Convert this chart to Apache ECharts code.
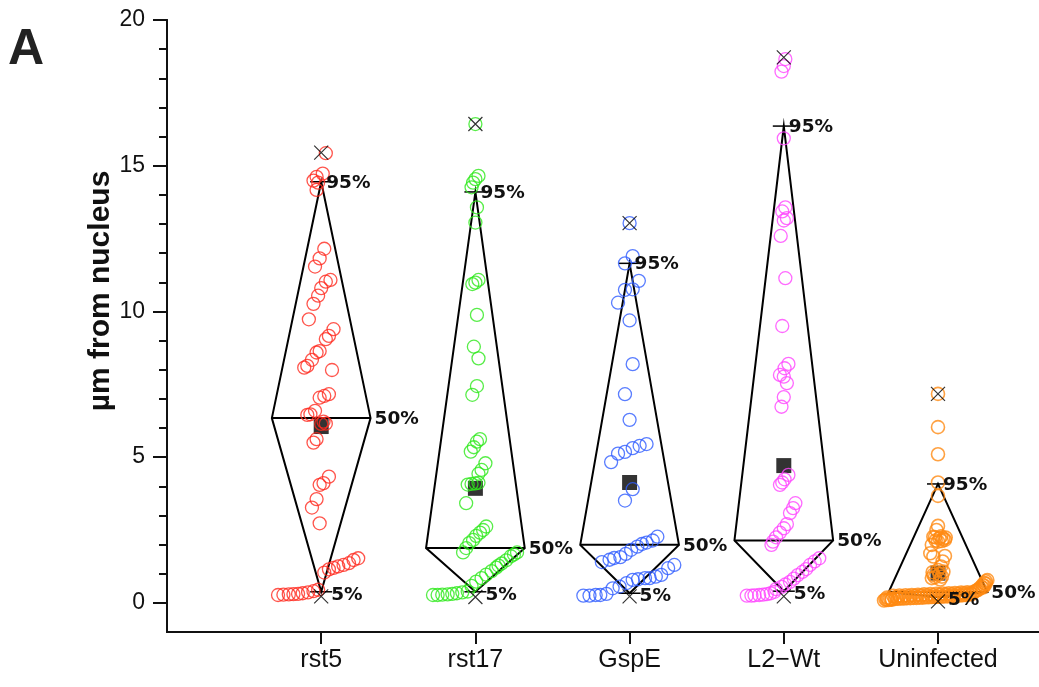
<!DOCTYPE html>
<html><head><meta charset="utf-8">
<script src="https://cdn.jsdelivr.net/npm/echarts@6/dist/echarts.min.js"></script>
<style>html,body{margin:0;padding:0;background:#fff}#c{width:1039px;height:687px}</style>
</head><body><div id="c"></div>
<script>
// ---- data ----
const categories = ['rst5', 'rst17', 'GspE', 'L2\u2212Wt', 'Uninfected'];
const yTickValues = [0, 5, 10, 15, 20];
const yMinorTickValues = [1,2,3,4,6,7,8,9,11,12,13,14,16,17,18,19];
const pct95 = [14.45, 14.1, 11.65, 16.36, 4.08];
const pct50 = [6.34, 1.88, 1.99, 2.14, 0.37];
const pct5  = [0.38, 0.38, 0.33, 0.40, 0.20];
const maxVals = [15.45, 16.43, 13.03, 18.72, 7.17];
const minVals = [0.22, 0.20, 0.22, 0.22, 0.05];
const means = [6.05, 3.93, 4.13, 4.71, 1.02];

// points: [offset from category centre (category units), value]
const rst5Pts = [
 [0.03,15.43],[-0.05,14.49],[-0.03,14.62],[0.01,14.73],[-0.02,14.42],[-0.03,14.17],
 [0.02,12.15],[-0.01,11.82],[-0.04,11.54],[0.06,11.08],[0.03,11.02],[0.0,10.80],[-0.02,10.54],
 [-0.05,10.26],[-0.08,9.73],[0.08,9.39],[0.05,9.16],[0.03,9.05],[-0.01,8.64],[-0.03,8.59],
 [-0.06,8.34],[-0.09,8.13],[-0.11,8.07],[0.07,7.99],[0.05,7.16],[0.02,7.10],[-0.01,7.04],
 [-0.04,6.59],[-0.07,6.47],[-0.09,6.45],[0.015,6.22],[0.03,6.15],[0.0,6.14],[-0.03,5.62],
 [-0.05,5.50],[0.05,4.33],[0.015,4.11],[-0.01,4.05],[-0.03,3.56],[-0.06,3.27],[-0.01,2.73],
 [0.24,1.53],[0.21,1.47],[0.18,1.36],[0.145,1.30],[0.11,1.25],[0.08,1.20],[0.05,1.15],[0.02,1.04],
 [-0.28,0.27],[-0.245,0.28],[-0.21,0.29],[-0.18,0.30],[-0.15,0.31],[-0.12,0.33],[-0.085,0.36],[-0.05,0.40],[-0.02,0.45]
];
const rst17Pts = [
 [0.0,16.43],[0.02,14.65],[0.0,14.54],[-0.015,14.42],[-0.025,14.26],[0.01,13.57],[0.0,13.05],
 [0.02,11.08],[0.0,10.99],[-0.02,10.94],[0.01,9.88],[-0.01,8.79],[0.02,8.39],[0.01,7.44],[-0.02,7.14],
 [0.03,5.62],[0.01,5.53],[-0.01,5.34],[-0.03,5.19],[0.065,4.79],[0.04,4.56],[0.02,4.43],
 [-0.05,4.06],[-0.025,4.08],[0.0,4.10],[0.02,4.12],[-0.06,3.42],
 [0.07,2.62],[0.05,2.50],[0.03,2.41],[0.005,2.30],[-0.015,2.16],[-0.04,2.05],[-0.06,1.88],[-0.08,1.73],
 [0.27,1.73],[0.25,1.66],[0.23,1.60],[0.2,1.46],[0.17,1.35],[0.15,1.28],[0.135,1.21],[0.105,1.09],
 [0.07,0.97],[0.04,0.85],[0.005,0.73],[-0.025,0.58],
 [-0.275,0.27],[-0.245,0.27],[-0.215,0.28],[-0.18,0.29],[-0.15,0.31],[-0.12,0.33],[-0.085,0.36],[-0.05,0.39]
];
const gspePts = [
 [0.0,13.03],[0.02,11.90],[-0.03,11.65],[0.06,11.05],[0.02,10.76],[-0.03,10.74],[-0.075,10.30],
 [0.0,9.69],[0.02,8.19],[-0.03,7.16],[0.0,6.28],
 [-0.12,4.83],[-0.075,5.12],[-0.03,5.18],[0.02,5.31],[0.065,5.39],[0.11,5.45],
 [0.02,3.90],[-0.03,3.51],
 [0.18,2.27],[0.15,2.14],[0.11,2.07],[0.08,2.02],[0.05,1.93],[0.01,1.82],[-0.025,1.68],[-0.06,1.57],
 [-0.1,1.54],[-0.13,1.48],[-0.18,1.40],
 [0.29,1.30],[0.25,1.19],[0.205,0.96],[0.17,0.90],[0.13,0.85],[0.1,0.85],[0.055,0.81],[0.02,0.79],
 [-0.02,0.68],[-0.065,0.56],[-0.11,0.50],[-0.15,0.31],[-0.19,0.27],[-0.22,0.27],[-0.26,0.25],[-0.3,0.25]
];
const l2wtPts = [
 [0.01,18.66],[0.0,18.42],[-0.015,18.23],[0.0,15.94],
 [0.01,13.57],[-0.01,13.43],[0.02,13.20],[0.0,13.12],[-0.02,12.59],[0.01,11.14],[-0.01,9.50],
 [0.03,8.20],[0.005,8.05],[-0.025,7.82],[0.0,7.76],[0.02,7.54],[0.0,7.06],[-0.015,6.73],
 [0.03,4.39],[0.005,4.24],[-0.01,4.13],[-0.025,4.05],[0.075,3.42],[0.06,3.25],[0.04,3.08],
 [0.02,2.70],[0.0,2.56],[-0.025,2.41],[-0.05,2.25],[-0.07,2.10],[-0.08,1.99],
 [0.23,1.53],[0.2,1.42],[0.17,1.30],[0.145,1.16],[0.12,1.06],[0.09,0.95],[0.065,0.83],[0.04,0.72],
 [0.01,0.63],[-0.015,0.55],[-0.05,0.47],
 [-0.24,0.25],[-0.21,0.25],[-0.19,0.26],[-0.16,0.27],[-0.135,0.28],[-0.11,0.30],[-0.085,0.33],[-0.06,0.38]
];
const uninfPts = [
 [0.0,7.17],[0.0,6.03],[0.0,5.10],[0.0,4.13],[0.0,3.67],
 [0.0,2.64],[-0.01,2.50],[-0.03,2.27],[0.01,2.22],[0.045,2.16],[0.0,2.10],[-0.04,1.99],
 [-0.02,2.25],[0.02,2.28],[0.035,2.20],[-0.015,2.14],[0.025,2.12],[0.05,2.24],
 [-0.05,1.70],[-0.03,1.59],[0.045,1.61],[0.03,1.42],[0.02,1.25],[0.0,1.13],[-0.03,0.96],
 [-0.04,0.85],[0.025,0.90],[0.035,1.07],[0.01,0.98],[-0.02,0.88],[0.015,0.80],[-0.035,1.05],
 [-0.35,0.08],[-0.34,0.12],[-0.33,0.10],[-0.31,0.13],[-0.30,0.11],
 [-0.32,0.10],[-0.30,0.12],[-0.28,0.13],[-0.26,0.14],[-0.24,0.15],[-0.22,0.15],[-0.20,0.16],
 [-0.18,0.16],[-0.16,0.17],[-0.14,0.17],[-0.12,0.18],[-0.10,0.18],[-0.08,0.19],[-0.06,0.19],
 [-0.04,0.20],[-0.02,0.20],[0.0,0.21],[0.02,0.21],[0.04,0.22],[0.06,0.22],[0.08,0.23],[0.10,0.23],
 [0.12,0.24],[0.14,0.25],[0.16,0.26],[0.18,0.27],[0.20,0.28],[0.22,0.30],
 [-0.33,0.18],[-0.29,0.24],[-0.27,0.20],[-0.25,0.25],[-0.23,0.22],[-0.21,0.26],[-0.19,0.23],
 [-0.17,0.27],[-0.15,0.24],[-0.13,0.28],[-0.11,0.25],[-0.09,0.29],[-0.07,0.26],[-0.05,0.30],
 [-0.03,0.27],[-0.01,0.31],[0.01,0.28],[0.03,0.32],[0.05,0.29],[0.07,0.33],[0.09,0.30],
 [0.11,0.34],[0.13,0.31],[0.15,0.35],[0.17,0.33],[0.19,0.36],[0.21,0.34],
 [0.23,0.36],[0.24,0.40],[0.25,0.42],[0.26,0.45],[0.27,0.50],[0.28,0.55],[0.29,0.62],
 [0.30,0.68],[0.31,0.74],[0.32,0.78],[0.30,0.58],[0.29,0.52],[0.31,0.66]
];
const groupPoints = [rst5Pts, rst17Pts, gspePts, l2wtPts, uninfPts];

// ---- styles ----
const colors = ['#ff2b1f', '#2ee81c', '#2f5cff', '#ff45ff', '#ff8a12'];
const HALF_W = 0.32;
const AXIS_COLOR = '#111';

const chart = echarts.init(document.getElementById('c'), null, {renderer: 'canvas'});
const kiteData = categories.map((c, i) => [i + 1, pct5[i], pct50[i], pct95[i]]);

function kiteShapes(params, api) {
  const x = api.value(0), p5 = api.value(1), p50 = api.value(2), p95 = api.value(3);
  const top = api.coord([x, p95]), bot = api.coord([x, p5]);
  const L = api.coord([x - HALF_W, p50]), R = api.coord([x + HALF_W, p50]);
  const st = {stroke: '#000', lineWidth: 2};
  return {type: 'group', children: [
    {type: 'polygon', shape: {points: [top, R, bot, L]}, style: {fill: 'none', stroke: '#000', lineWidth: 2, lineJoin: 'miter'}},
    {type: 'line', shape: {x1: L[0], y1: L[1], x2: R[0], y2: R[1]}, style: st},
    {type: 'line', shape: {x1: top[0] - 11, y1: top[1], x2: top[0] + 11, y2: top[1]}, style: {stroke: '#000', lineWidth: 1.5}},
    {type: 'line', shape: {x1: bot[0] - 11, y1: bot[1], x2: bot[0] + 11, y2: bot[1]}, style: {stroke: '#000', lineWidth: 1.5}}
  ]};
}
function kiteLabels(params, api) {
  const x = api.value(0), p5 = api.value(1), p50 = api.value(2), p95 = api.value(3);
  const top = api.coord([x, p95]), bot = api.coord([x, p5]);
  const R = api.coord([x + HALF_W, p50]);
  const font = 'bold 18.5px "DejaVu Sans"';
  const mk = (px, py, t) => ({type: 'text', x: px, y: py,
    style: {text: t, font: font, fill: '#111', textAlign: 'left', textVerticalAlign: 'middle'}});
  return {type: 'group', children: [
    mk(top[0] + 5, top[1] + 1, '95%'),
    mk(R[0] + 4, R[1] + 1, '50%'),
    mk(bot[0] + 10, bot[1] + 3, '5%')
  ]};
}

const series = [
  {type: 'custom', z: 1, silent: true, clip: false, data: kiteData, renderItem: kiteShapes,
   encode: {x: 0, y: [1, 2, 3]}},
  {type: 'scatter', z: 2, silent: true, symbol: 'rect', symbolSize: 15,
   itemStyle: {color: '#000'}, data: means.map((m, i) => [i + 1, m])}
];
groupPoints.forEach((pts, i) => {
  series.push({type: 'scatter', z: 3, silent: true, symbol: 'circle', symbolSize: 13,
    itemStyle: {color: 'rgba(0,0,0,0)', borderColor: colors[i], borderWidth: i === 4 ? 1.6 : 1.3},
    data: pts.map(p => [i + 1 + p[0], p[1]])});
});
series.push({type: 'scatter', z: 4, silent: true, symbol: 'path://M0,0L10,10M10,0L0,10', symbolSize: 14,
  itemStyle: {color: 'none', borderColor: '#000', borderWidth: 1.2},
  data: maxVals.map((v, i) => [i + 1, v]).concat(minVals.map((v, i) => [i + 1, v]))});
series.push({type: 'custom', z: 5, silent: true, clip: false, data: kiteData, renderItem: kiteLabels,
  encode: {x: 0, y: [1, 2, 3]}});

chart.setOption({
  animation: false,
  backgroundColor: '#fff',
  grid: {left: 167, right: 0, top: 20, bottom: 55, containLabel: false},
  xAxis: {type: 'value', min: 0, max: 5.655,
    axisLine: {onZero: false, lineStyle: {color: AXIS_COLOR, width: 2}},
    axisTick: {show: true, customValues: [1, 2, 3, 4, 5], length: 12, lineStyle: {color: AXIS_COLOR, width: 2}},
    axisLabel: {customValues: [1, 2, 3, 4, 5], formatter: v => categories[Math.round(v) - 1],
      fontSize: 25, fontFamily: 'Liberation Sans', color: '#111', margin: 16},
    splitLine: {show: false}},
  yAxis: [
    {type: 'value', min: -1, max: 20,
     axisLine: {show: true, onZero: false, lineStyle: {color: AXIS_COLOR, width: 2}},
     axisTick: {show: true, customValues: yTickValues, length: 14, lineStyle: {color: AXIS_COLOR, width: 2}},
     axisLabel: {customValues: yTickValues, fontSize: 23, fontFamily: 'Liberation Sans', color: '#111', margin: 22},
     splitLine: {show: false}},
    {type: 'value', min: -1, max: 20, position: 'left', offset: 0,
     axisLine: {show: true, onZero: false, lineStyle: {color: AXIS_COLOR, width: 2}},
     axisTick: {show: true, customValues: yMinorTickValues, length: 8, lineStyle: {color: AXIS_COLOR, width: 2}},
     axisLabel: {show: false}, splitLine: {show: false}}
  ],
  graphic: [
    {type: 'text', left: 8, top: 25, style: {text: 'A', font: 'bold 50px "Liberation Sans"', fill: '#222'}},
    {type: 'text', x: 101, y: 291, rotation: Math.PI / 2,
     style: {text: '\u00b5m from nucleus', font: 'bold 30px "Liberation Sans"', fill: '#111',
       textAlign: 'center', textVerticalAlign: 'middle'}}
  ],
  series: series
});
</script></body></html>
